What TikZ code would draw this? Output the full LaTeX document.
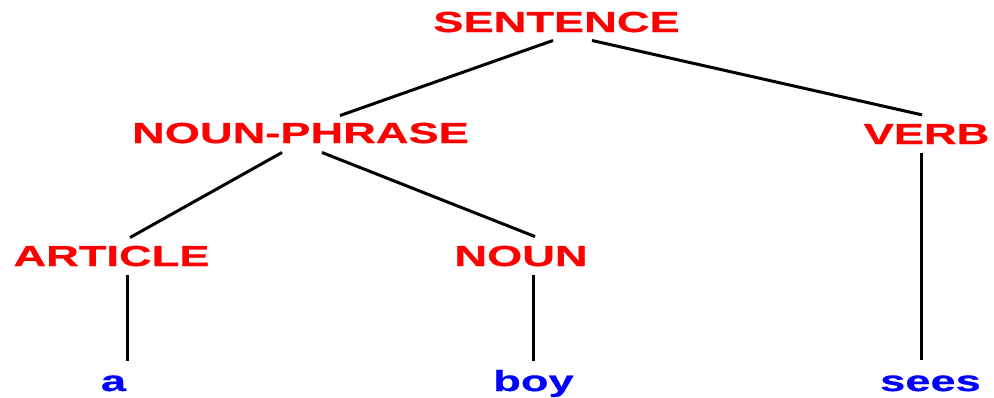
\documentclass[tikz,border=0pt]{standalone}
\usepackage{fontspec}
\newfontfamily\treefont[FakeStretch=1.56,FakeBold=0.6]{Liberation Sans}
\begin{document}
\begin{tikzpicture}[x=1pt,y=-1pt,
  lbl/.style={inner sep=0pt,anchor=base,font=\treefont\bfseries\fontsize{29}{29}\selectfont},
  cat/.style={lbl,text=red},
  word/.style={lbl,text=blue},
  edge/.style={draw=black,line width=3pt}]
\useasboundingbox (0,0) rectangle (994,397);
\node[cat] (S) at (556.5,32) {SENTENCE};
\node[cat] (NP) at (300.5,143) {NOUN-PHRASE};
\node[cat] (V) at (926.5,144) {VERB};
\node[cat] (ART) at (111.5,266) {ARTICLE};
\node[cat] (N) at (521,266) {NOUN};
\node[word] (a) at (113.5,391) {a};
\node[word] (boy) at (533.5,391) {boy};
\node[word] (sees) at (930.5,391) {sees};
\draw[edge] ([xshift=-3.5pt,yshift=-8pt]S.south) -- ([xshift=39.5pt,yshift=7pt]NP.north);
\draw[edge] ([xshift=35.5pt,yshift=-8pt]S.south) -- ([xshift=-4.5pt,yshift=9pt]V.north);
\draw[edge] ([xshift=-18.5pt,yshift=-9pt]NP.south) -- ([xshift=18.5pt,yshift=8pt]ART.north);
\draw[edge] ([xshift=21.5pt,yshift=-9pt]NP.south) -- ([xshift=14pt,yshift=9pt]N.north);
\draw[edge] ([xshift=15.5pt,yshift=-9pt]ART.south) -- ([xshift=13.5pt,yshift=14pt]a.north);
\draw[edge] ([xshift=12pt,yshift=-9pt]N.south) -- ([xshift=-0.5pt,yshift=9pt]boy.north);
\draw[edge] ([xshift=-5.5pt,yshift=-9pt]V.south) -- ([xshift=-9.5pt,yshift=15pt]sees.north);
\end{tikzpicture}
\end{document}
